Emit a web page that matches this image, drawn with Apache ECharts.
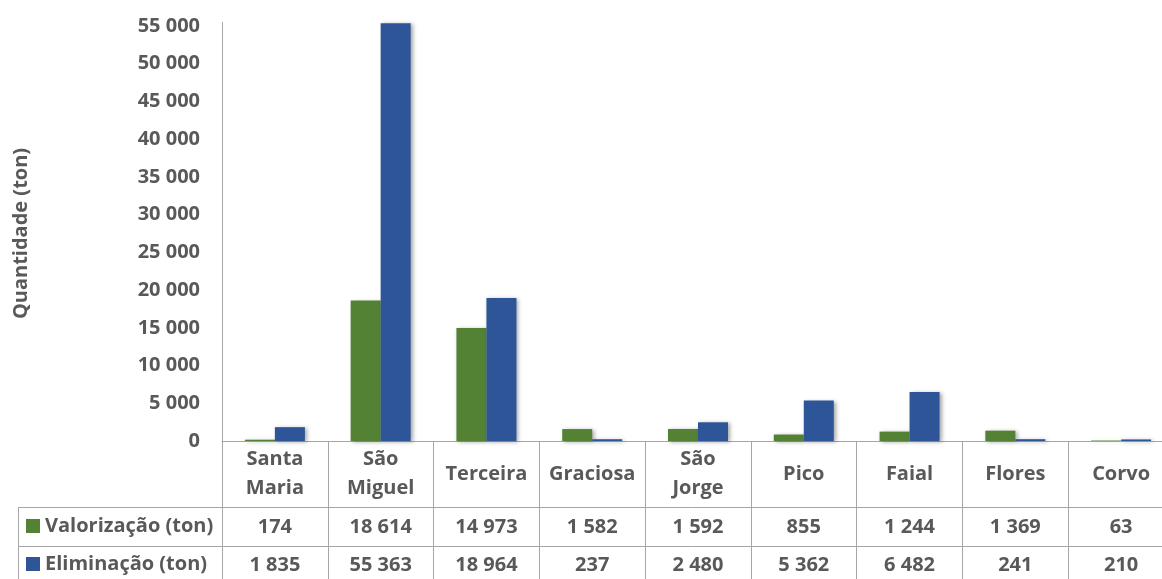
<!DOCTYPE html>
<html>
<head>
<meta charset="utf-8">
<script src="https://cdn.jsdelivr.net/npm/echarts@6/dist/echarts.min.js"></script>
<style>
html,body{margin:0;padding:0;background:#fff;}
#chart{width:1162px;height:579px;}
</style>
</head>
<body>
<div id="chart"></div>
<script>
var categories = ['Santa\nMaria', 'São\nMiguel', 'Terceira', 'Graciosa', 'São\nJorge', 'Pico', 'Faial', 'Flores', 'Corvo'];
var valorizacao = [174, 18614, 14973, 1582, 1592, 855, 1244, 1369, 63];
var eliminacao = [1835, 55363, 18964, 237, 2480, 5362, 6482, 241, 210];
var seriesNames = ['Valorização (ton)', 'Eliminação (ton)'];
var yAxisTitle = 'Quantidade (ton)';

function fmt(v) { return String(v).replace(/\B(?=(\d{3})+(?!\d))/g, ' '); }

var FONT = 'Open Sans';
var TXT = '#595959';
var LINE = '#a6a6a6';
var FS = 20;

var chart = echarts.init(document.getElementById('chart'));
chart.setOption({
  animation: false,
  textStyle: { fontFamily: FONT },
  grid: { left: 222, top: 26, width: 952, bottom: 138, containLabel: false, outerBoundsMode: 'none' },
  legend: {
    orient: 'vertical', left: 26, top: 515, padding: 0,
    itemWidth: 14, itemHeight: 14, itemGap: 16, icon: 'rect',
    textStyle: { fontFamily: FONT, fontWeight: 'bold', fontSize: FS, color: TXT, lineHeight: 22 },
    data: seriesNames
  },
  xAxis: [
    {
      type: 'category', data: categories, position: 'bottom',
      axisLine: { show: true, lineStyle: { color: LINE, width: 1 } },
      axisTick: { show: true, length: 140, interval: 0, lineStyle: { color: LINE } },
      axisLabel: { interval: 0, margin: 33, verticalAlign: 'middle', color: TXT, fontSize: FS, fontWeight: 'bold', fontFamily: FONT, lineHeight: 29 }
    },
    {
      type: 'category', data: valorizacao.map(fmt), position: 'bottom', offset: 66,
      axisLine: { show: true, lineStyle: { color: LINE, width: 1 } },
      axisTick: { show: false },
      axisLabel: { interval: 0, margin: 20, verticalAlign: 'middle', color: TXT, fontSize: FS, fontWeight: 'bold', fontFamily: FONT }
    },
    {
      type: 'category', data: eliminacao.map(fmt), position: 'bottom', offset: 105,
      axisLine: { show: true, lineStyle: { color: LINE, width: 1 } },
      axisTick: { show: false },
      axisLabel: { interval: 0, margin: 19, verticalAlign: 'middle', color: TXT, fontSize: FS, fontWeight: 'bold', fontFamily: FONT }
    }
  ],
  yAxis: {
    type: 'value', min: 0, max: 55000, interval: 5000,
    name: yAxisTitle, nameLocation: 'middle', nameRotate: 90, nameGap: 191,
    nameTextStyle: { color: TXT, fontSize: FS, fontWeight: 'bold', fontFamily: FONT },
    axisLine: { show: true, lineStyle: { color: LINE, width: 1 } },
    axisTick: { show: false },
    splitLine: { show: false },
    axisLabel: { margin: 22, color: TXT, fontSize: FS, fontWeight: 'bold', fontFamily: FONT, formatter: function (v) { return fmt(v); } }
  },
  series: [
    {
      name: seriesNames[0], type: 'bar', xAxisIndex: 0, data: valorizacao,
      barWidth: 30, barGap: '0%', clip: false,
      itemStyle: { color: '#548235', shadowColor: 'rgba(0,0,0,0.35)', shadowBlur: 4, shadowOffsetX: 2, shadowOffsetY: 1 }
    },
    {
      name: seriesNames[1], type: 'bar', xAxisIndex: 0, data: eliminacao,
      barWidth: 30, barGap: '0%', clip: false,
      itemStyle: { color: '#2e5597', shadowColor: 'rgba(0,0,0,0.35)', shadowBlur: 4, shadowOffsetX: 2, shadowOffsetY: 1 }
    }
  ],
  graphic: [
    { type: 'line', shape: { x1: 222.5, y1: 22, x2: 222.5, y2: 26 }, style: { stroke: LINE, lineWidth: 1 } },
    { type: 'line', shape: { x1: 18, y1: 507.5, x2: 222, y2: 507.5 }, style: { stroke: LINE, lineWidth: 1 } },
    { type: 'line', shape: { x1: 18, y1: 546.5, x2: 222, y2: 546.5 }, style: { stroke: LINE, lineWidth: 1 } },
    { type: 'line', shape: { x1: 18.5, y1: 507, x2: 18.5, y2: 579 }, style: { stroke: LINE, lineWidth: 1 } }
  ]
});
</script>
</body>
</html>
